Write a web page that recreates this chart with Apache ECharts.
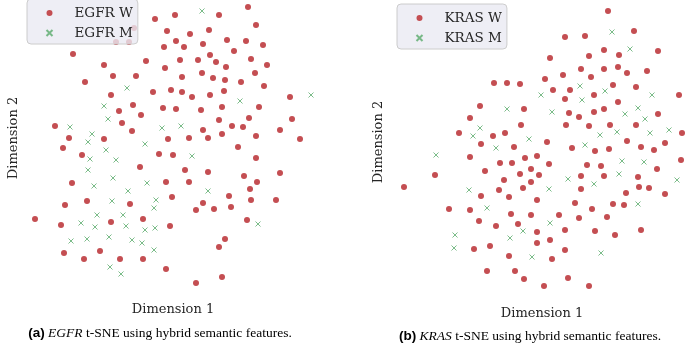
<!DOCTYPE html>
<html lang="en" style="height: 100%">
<head>
<meta charset="utf-8">
<title>t-SNE hybrid semantic features</title>
</head>
<body style="height: 100%; margin: 0; background: #fff">
<div id="container" style="width: 685px; height: 346px"></div>
<script type="text/javascript" src="https://cdn.jsdelivr.net/npm/echarts@6/dist/echarts.min.js"></script>
<script type="text/javascript">

// t-SNE embeddings (arbitrary units, y grows downward)
var egfrWild = [
  [155,19],[167,31],[134,28],[116,42],[129,42],[164,47],[73,54],[146,61],[104,65],[165,68],
  [113,76],[136,76],[85,82],[153,92],[171,90],[111,95],[133,105],[163,108],[119,111],[141,115],
  [55,126],[122,123],[132,131],[69,138],[104,139],[168,139],[63,148],
  [248,7],[175,15],[219,15],[256,25],[190,34],[209,30],[176,41],[203,44],[227,40],[246,41],
  [263,45],[184,47],[210,55],[234,51],[180,60],[198,60],[216,62],[251,59],[267,65],[226,67],
  [182,77],[202,73],[213,78],[225,80],[241,82],[255,73],[264,86],[182,92],[192,97],[210,95],
  [224,91],[290,97],[176,109],[201,110],[222,107],[259,107],[219,120],[249,118],[292,119],
  [232,126],[243,127],[280,130],[203,130],[189,138],[208,138],[222,134],[256,136],[300,139],[238,147],
  [82,155],[159,154],[140,167],[72,183],[166,182],[65,205],[87,201],[130,204],[35,219],[61,225],
  [111,222],[143,219],[170,226],[64,253],[100,251],[84,259],[120,259],[143,259],[166,269],
  [173,155],[256,158],[185,170],[208,172],[244,176],[280,173],[189,182],[257,182],[250,189],
  [172,197],[203,203],[229,196],[251,200],[276,200],[196,210],[214,209],[231,207],[247,220],
  [225,239],[219,247],[222,277],[196,283]
];
var egfrMut = [
  [127,88],[104,106],[108,119],[70,127],[162,128],[92,134],[88,142],[145,144],[106,150],
  [202,11],[240,101],[311,95],[181,126],[90,159],[116,160],[88,170],[113,178],[94,186],
  [147,183],[128,191],[112,201],[156,200],[154,208],[97,215],[123,215],[81,223],[95,227],
  [126,226],[145,230],[155,228],[71,241],[87,239],[109,237],[132,240],[142,243],[154,250],
  [110,267],[121,274],[192,156],[208,191],[258,224]
];
var krasWild = [
  [494,83],[507,83],[520,84],[480,106],[524,109],[470,118],[521,125],[459,133],[493,136],
  [505,133],[481,144],[514,147],
  [608,11],[634,31],[565,37],[585,36],[604,50],[658,51],[589,56],[619,55],[550,58],[581,69],
  [604,69],[618,67],[627,73],[647,71],[545,79],[563,75],[591,77],[613,85],[636,87],[553,90],
  [570,90],[594,95],[679,95],[565,99],[618,102],[569,113],[594,112],[604,109],[579,117],
  [658,114],[566,125],[589,126],[610,125],[636,125],[682,133],[547,142],[627,141],[665,143],
  [572,148],[595,151],[609,149],[641,147],[654,150],
  [470,157],[500,163],[512,163],[525,158],[537,156],[435,175],[485,171],[520,174],[531,169],
  [539,175],[404,187],[504,180],[531,182],[499,190],[523,188],[481,196],[509,197],[537,200],
  [449,209],[470,210],[511,214],[531,215],[479,221],[496,226],[518,224],[537,232],[537,243],
  [474,249],[490,246],[509,256],[487,271],[515,271],[524,279],
  [681,160],[549,164],[587,165],[601,166],[657,169],[581,176],[604,176],[638,177],[581,189],
  [639,187],[649,188],[626,193],[665,194],[575,203],[613,204],[624,205],[592,209],[559,215],
  [579,218],[607,217],[565,230],[595,231],[641,230],[615,235],[550,240],[565,250],[552,259],
  [568,278],[544,286],[589,286]
];
var krasMut = [
  [507,109],[480,128],[473,136],[529,139],[496,148],[541,95],[612,32],[630,49],[580,86],
  [605,91],[582,100],[652,95],[552,112],[638,108],[625,114],[645,119],[600,135],[617,132],
  [650,133],[669,130],[585,145],[436,155],[469,190],[487,208],[523,231],[510,238],[455,235],
  [454,248],[532,257],[622,161],[644,162],[568,179],[594,184],[619,174],[677,180],[549,189],
  [638,204],[550,223],[601,253]
];

var axisNames = ['Dimension 1', 'Dimension 2'];
var captions = [
  '{b|(a)} {i|EGFR} t-SNE using hybrid semantic features.',
  '{b|(b)} {i|KRAS} t-SNE using hybrid semantic features.'
];

var RED = '#c44e52';
var GREEN = '#5aab6c';
var INK = '#262626';
var CROSS = 'path://M0,0L10,10M10,0L0,10';

var dom = document.getElementById('container');
var myChart = echarts.init(dom, null, { renderer: 'canvas' });

function xAxisFor(gridIndex, min, max) {
  return {
    gridIndex: gridIndex, type: 'value', min: min, max: max,
    name: axisNames[0], nameLocation: 'middle', nameGap: 27,
    nameTextStyle: { fontFamily: 'DejaVu Serif', fontSize: 13, color: INK },
    axisLine: { show: false }, axisTick: { show: false },
    axisLabel: { show: false }, splitLine: { show: false }
  };
}
function yAxisFor(gridIndex, min, max, gap) {
  return {
    gridIndex: gridIndex, type: 'value', min: min, max: max, inverse: true,
    name: axisNames[1], nameLocation: 'middle', nameGap: gap, nameRotate: 90,
    nameTextStyle: { fontFamily: 'DejaVu Serif', fontSize: 13, color: INK },
    axisLine: { show: false }, axisTick: { show: false },
    axisLabel: { show: false }, splitLine: { show: false }
  };
}
function wildSeries(name, data, idx) {
  return {
    name: name, type: 'scatter', xAxisIndex: idx, yAxisIndex: idx, clip: false,
    symbol: 'circle', symbolSize: 6, data: data,
    itemStyle: { color: RED, opacity: 1 },
    emphasis: { disabled: true }
  };
}
function mutSeries(name, data, idx) {
  return {
    name: name, type: 'scatter', xAxisIndex: idx, yAxisIndex: idx, clip: false,
    symbol: CROSS, symbolSize: 5, data: data,
    itemStyle: { color: 'none', borderColor: GREEN, borderWidth: 1 },
    emphasis: { disabled: true }
  };
}
function legendFor(names, left, top) {
  return {
    data: names, orient: 'vertical', left: left, top: top,
    padding: [7, 5, 4, 17], itemGap: 6, itemWidth: 6, itemHeight: 6,
    backgroundColor: 'rgba(234,234,242,0.8)', borderColor: '#cccccc',
    borderWidth: 1, borderRadius: 4,
    formatter: '{t|{name}}',
    textStyle: {
      fontFamily: 'DejaVu Serif', fontSize: 13.5, color: INK, lineHeight: 14,
      rich: { t: { fontFamily: 'DejaVu Serif', fontSize: 13.5, color: INK, lineHeight: 14, padding: [0, 0, 0, 17] } }
    },
    selectedMode: false
  };
}
var captionRich = {
  b: { fontFamily: 'Liberation Sans', fontWeight: 'bold', fontSize: 13.5, color: '#000' },
  i: { fontFamily: 'Liberation Serif', fontStyle: 'italic', fontSize: 13.5, color: '#000' }
};

var option = {
  animation: false,
  title: [
    { text: captions[0], left: 160, top: 326, textAlign: 'center', padding: 0,
      textStyle: { fontFamily: 'Liberation Serif', fontWeight: 'normal', fontSize: 13.5, color: '#000', rich: captionRich } },
    { text: captions[1], left: 530, top: 329, textAlign: 'center', padding: 0,
      textStyle: { fontFamily: 'Liberation Serif', fontWeight: 'normal', fontSize: 13.5, color: '#000', rich: captionRich } }
  ],
  legend: [
    legendFor(['EGFR W', 'EGFR M'], 27, -1),
    legendFor(['KRAS W', 'KRAS M'], 397, 4)
  ],
  grid: [
    { left: 30, top: 0, width: 286, height: 276 },
    { left: 400, top: 4, width: 284, height: 276 }
  ],
  xAxis: [xAxisFor(0, 30, 316), xAxisFor(1, 400, 684)],
  yAxis: [yAxisFor(0, 0, 276, 10), yAxisFor(1, 4, 280, 15)],
  series: [
    wildSeries('EGFR W', egfrWild, 0),
    mutSeries('EGFR M', egfrMut, 0),
    wildSeries('KRAS W', krasWild, 1),
    mutSeries('KRAS M', krasMut, 1)
  ]
};

myChart.setOption(option);
window.addEventListener('resize', myChart.resize);
</script>
</body>
</html>
